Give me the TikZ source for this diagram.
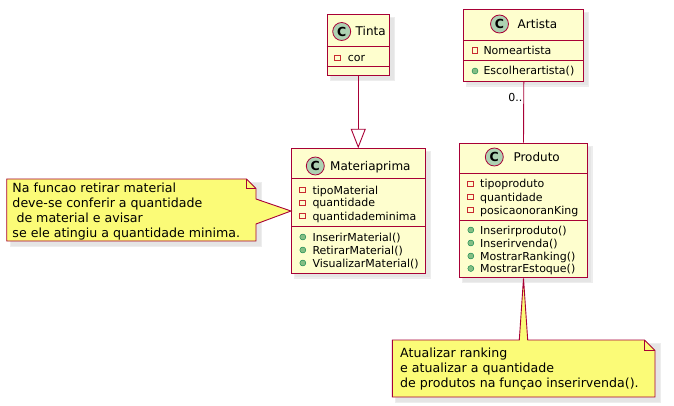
\documentclass[tikz,border=0pt]{standalone}
\usepackage{fontspec}
\setmainfont{DejaVu Sans}
\usetikzlibrary{arrows.meta,calc}
\definecolor{umlred}{HTML}{A80036}
\definecolor{umlfill}{HTML}{FEFECE}
\definecolor{notefill}{HTML}{FBFB77}
\definecolor{circfill}{HTML}{ADD1B2}
\definecolor{privc}{HTML}{C82930}
\definecolor{pubfill}{HTML}{84BE84}
\definecolor{pubdraw}{HTML}{038048}
\tikzset{
  cls/.style={draw=umlred, fill=umlfill, line width=1pt, rectangle, anchor=north west, inner sep=0pt},
  sepline/.style={draw=umlred, line width=1pt},
  shA/.style={fill=black!7, draw=none},
  shB/.style={fill=black!10, draw=none},
  cname/.style={anchor=base west, inner sep=0pt, font=\fontsize{12}{14}\selectfont},
  member/.style={anchor=base west, inner sep=0pt, font=\fontsize{11}{13}\selectfont},
  ntext/.style={anchor=base west, inner sep=0pt, font=\fontsize{12.6}{15}\selectfont},
  privicon/.style={draw=privc, line width=0.6pt, fill=none, minimum size=5.5pt, inner sep=0pt, rectangle},
  pubicon/.style={draw=pubdraw, fill=pubfill, circle, minimum size=6pt, inner sep=0pt, line width=0.4pt},
  cicon/.style={circle, draw=umlred, fill=circfill, minimum size=18pt, inner sep=0pt, line width=0.8pt, font=\fontsize{12.5}{12.5}\selectfont\bfseries},
  conn/.style={draw=umlred, line width=0.9pt},
  notebox/.style={draw=umlred, fill=notefill, line width=0.9pt, line join=miter},
}
\begin{document}
\begin{tikzpicture}[x=1pt,y=-1pt]
\useasboundingbox (0,0) rectangle (674,406);
\fill[white] (0,0) rectangle (674,406);

% ---------- shadows ----------
\foreach \xa/\ya/\xb/\yb in {326.5/14/389/75.3, 463.3/8.7/583.3/81, 291/148.3/425/272.7, 459.3/142.7/586.7/277.3, 6.7/179/256/241, 392.3/340/655/397}{
  \fill[shA] (\xa+3,\ya+3) rectangle (\xb+6,\yb+6);
  \fill[shB] (\xa+4,\ya+4) rectangle (\xb+4.5,\yb+4.5);
}

% ---------- Tinta ----------
\node[cls, minimum width=62.5pt, minimum height=61.3pt] (tinta) at (326.5,14) {};
\draw[sepline] (326.5,46.7) -- (389,46.7);
\draw[sepline] (326.5,66.8) -- (389,66.8);
\node[cicon] (tintaC) at (341.7,31.5) {C};
\node[cname] (tintaN) at (355.5,36) {Tinta};
\node[privicon] (tintaI1) at (337.2,58) {};
\node[member] (tintaA1) at (347.7,62) {cor};

% ---------- Artista ----------
\node[cls, minimum width=120pt, minimum height=72.3pt] (artista) at (463.3,8.7) {};
\draw[sepline] (463.3,40.7) -- (583.3,40.7);
\draw[sepline] (463.3,60.7) -- (583.3,60.7);
\node[cicon] (artC) at (499.5,24) {C};
\node[cname] (artN) at (517.5,28.5) {Artista};
\node[privicon] (artI1) at (474.7,50.5) {};
\node[member] (artA1) at (483.3,54.5) {Nomeartista};
\node[pubicon] (artI2) at (475,71) {};
\node[member] (artM1) at (483.3,75) {Escolherartista()};

% ---------- Materiaprima ----------
\node[cls, minimum width=134pt, minimum height=124.4pt] (materia) at (291,148.3) {};
\draw[sepline] (291,179) -- (425,179);
\draw[sepline] (291,226) -- (425,226);
\node[cicon] (matC) at (315.3,166) {C};
\node[cname] (matN) at (330,170.5) {Materiaprima};
\node[privicon] (matI1) at (302.5,190) {};
\node[member] (matA1) at (312.3,194) {tipoMaterial};
\node[privicon] (matI2) at (302.5,203) {};
\node[member] (matA2) at (312.3,207) {quantidade};
\node[privicon] (matI3) at (302.5,216) {};
\node[member] (matA3) at (312.3,220) {quantidademinima};
\node[pubicon] (matI4) at (302.8,237) {};
\node[member] (matM1) at (312.3,241) {InserirMaterial()};
\node[pubicon] (matI5) at (302.8,250) {};
\node[member] (matM2) at (312.3,254) {RetirarMaterial()};
\node[pubicon] (matI6) at (302.8,263) {};
\node[member] (matM3) at (312.3,267) {VisualizarMaterial()};

% ---------- Produto ----------
\node[cls, minimum width=127.4pt, minimum height=134.6pt] (produto) at (459.3,142.7) {};
\draw[sepline] (459.3,173.3) -- (586.7,173.3);
\draw[sepline] (459.3,220) -- (586.7,220);
\node[cicon] (proC) at (494.3,157) {C};
\node[cname] (proN) at (513.3,161.5) {Produto};
\node[privicon] (proI1) at (470.5,184) {};
\node[member] (proA1) at (480,188) {tipoproduto};
\node[privicon] (proI2) at (470.5,197) {};
\node[member] (proA2) at (480,201) {quantidade};
\node[privicon] (proI3) at (470.5,210) {};
\node[member] (proA3) at (480,214) {posicaonoranKing};
\node[pubicon] (proI4) at (470.8,230) {};
\node[member] (proM1) at (480,234) {Inserirproduto()};
\node[pubicon] (proI5) at (470.8,243) {};
\node[member] (proM2) at (480,247) {Inserirvenda()};
\node[pubicon] (proI6) at (470.8,256) {};
\node[member] (proM3) at (480,260) {MostrarRanking()};
\node[pubicon] (proI7) at (470.8,268.5) {};
\node[member] (proM4) at (480,272.5) {MostrarEstoque()};

% ---------- connectors ----------
\draw[conn, -{Triangle[open, length=19.5pt, width=15pt]}] (tinta.south) -- (tinta.south |- materia.north);
\draw[conn] (artista.south) -- (produto.north);
\node[member, anchor=base east] (mult) at (522.5,101.5) {0..};

% ---------- note 1 ----------
\draw[notebox] (6.7,179) -- (246.5,179) -- (256,188.5) -- (256,199) -- (materia.west) -- (256,224) -- (256,241) -- (6.7,241) -- cycle;
\draw[umlred, line width=0.9pt] (246.5,179) -- (246.5,188.5) -- (256,188.5);
\node[ntext] (n1a) at (12.3,192.5) {Na funcao retirar material};
\node[ntext] (n1b) at (12.3,207.5) {deve-se conferir a quantidade};
\node[ntext] (n1c) at (12.3,222.5) {\ de material e avisar};
\node[ntext] (n1d) at (12.3,237.5) {se ele atingiu a quantidade minima.};

% ---------- note 2 ----------
\draw[notebox] (392.3,340) -- (519.3,340) -- (produto.south) -- (527.7,340) -- (644.5,340) -- (655,350.5) -- (655,397) -- (392.3,397) -- cycle;
\draw[umlred, line width=0.9pt] (644.5,340) -- (644.5,350.5) -- (655,350.5);
\node[ntext] (n2a) at (400,357.8) {Atualizar ranking};
\node[ntext] (n2b) at (400,372.8) {e atualizar a quantidade};
\node[ntext] (n2c) at (400,387.8) {de produtos na funçao inserirvenda().};
\end{tikzpicture}
\end{document}
